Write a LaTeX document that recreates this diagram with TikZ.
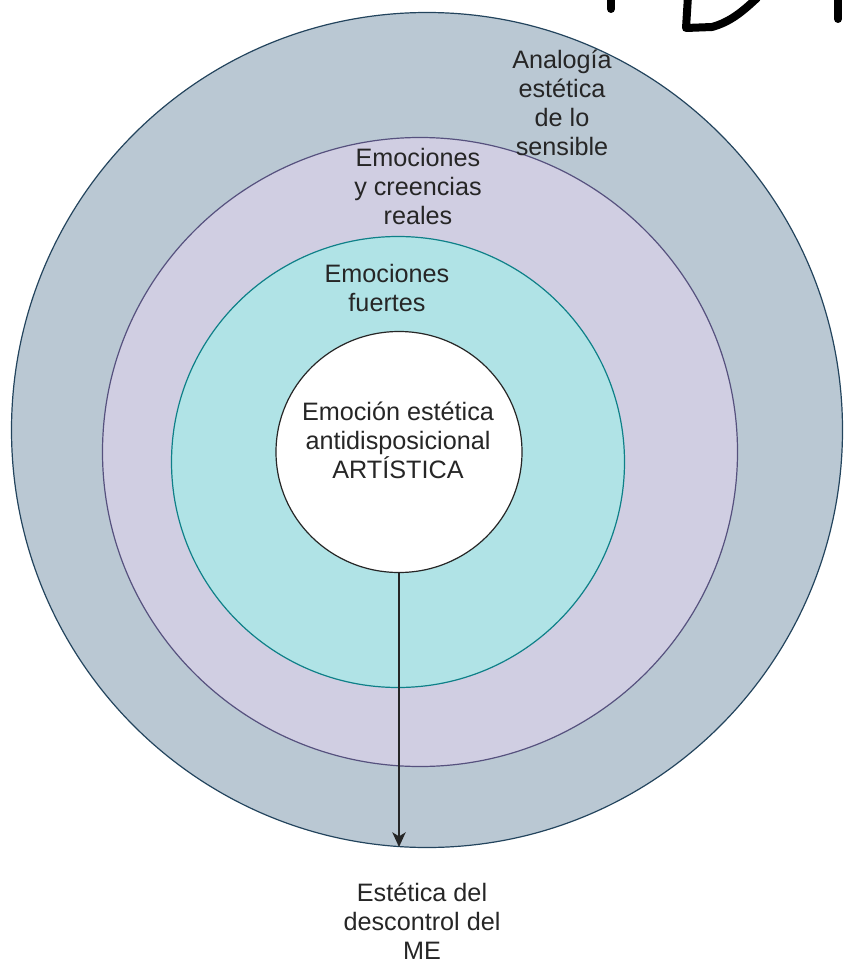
\documentclass[tikz,border=0pt]{standalone}
\usepackage{fontspec}
\setmainfont{Liberation Sans}
\usetikzlibrary{shapes.geometric,arrows.meta}
\definecolor{grisAzul}{RGB}{186,200,211}
\definecolor{grisAzulBorde}{RGB}{35,68,93}
\definecolor{lila}{RGB}{208,206,226}
\definecolor{lilaBorde}{RGB}{86,81,126}
\definecolor{turquesa}{RGB}{176,227,230}
\definecolor{turquesaBorde}{RGB}{14,128,136}
\tikzset{
  anillo/.style={ellipse, inner sep=0pt, line width=0.9pt},
  rotulo/.style={align=center, font=\fontsize{18.9}{21.75}\selectfont, text=black!85},
  flecha/.style={-{Stealth[length=11pt,width=10pt,inset=3pt]}, line width=1.1pt, black!85},
  trazo/.style={line width=6pt, line cap=round, line join=round}
}
\begin{document}
\begin{tikzpicture}[x=0.75pt,y=0.75pt,yscale=-1,xscale=1]
\useasboundingbox (0,0) rectangle (843,963);

%Shape: Ellipse [exterior]
\node [anillo, draw=grisAzulBorde, fill=grisAzul, minimum width=623.25pt, minimum height=626.25pt] (exterior) at (427,430) {};
%Shape: Ellipse [reales]
\node [anillo, draw=lilaBorde, fill=lila, minimum width=476.25pt, minimum height=471.75pt] (reales) at (420,452) {};
%Shape: Ellipse [fuertes]
\node [anillo, draw=turquesaBorde, fill=turquesa, minimum width=339.75pt, minimum height=338.25pt] (fuertes) at (398,462) {};
%Shape: Ellipse [nucleo]
\node [anillo, draw=black!85, fill=white, minimum width=184.5pt, minimum height=180.75pt] (nucleo) at (399,452) {};

% Text Node
\node [rotulo] (txtAnalogia) at (562,103) {Analogía\\estética\\de lo\\sensible};
% Text Node
\node [rotulo] (txtReales) at (418,186) {Emociones\\y creencias\\reales};
% Text Node
\node [rotulo] (txtFuertes) at (387,288) {Emociones\\fuertes};
% Text Node
\node [rotulo] (txtNucleo) at (398,440) {Emoción estética\\antidisposicional\\ARTÍSTICA};
% Text Node
\node [rotulo] (txtDescontrol) at (422,921) {Estética del\\descontrol del\\ME};

%Straight Lines [flecha]
\coordinate (punta) at (399,847);
\draw [flecha] (nucleo.south) -- (punta);

%Handwriting
\draw [trazo] (611,-4) -- (611,9);
\draw [trazo] (757,-4) -- (688,-4) -- (686,28) -- (712,27) .. controls (730,22) and (742,12) .. (757,-2);
\draw [trazo] (838,-4) -- (838,19);
\end{tikzpicture}
\end{document}
